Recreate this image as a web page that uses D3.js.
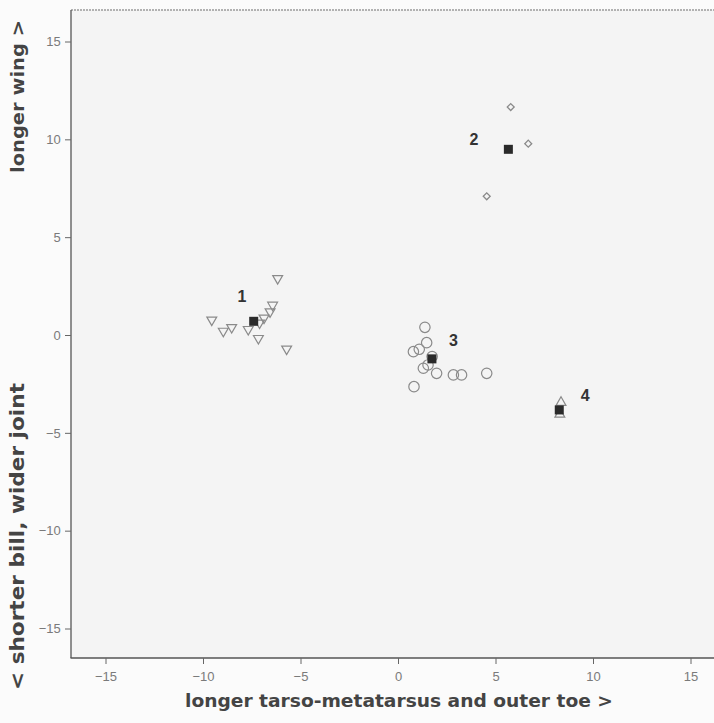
<!DOCTYPE html>
<html><head><meta charset="utf-8">
<script src="https://cdn.jsdelivr.net/npm/d3@7"></script>
<style>body{margin:0;background:#fbfbfb}svg{display:block}</style>
</head><body>
<script>
// Data
const xTicks = [-15,-10,-5,0,5,10,15];
const yTicks = [-15,-10,-5,0,5,10,15];
const group1 = [[-9.55,0.77],[-8.96,0.2],[-8.53,0.39],[-7.68,0.29],[-7.16,-0.17],[-7.1,0.62],[-6.87,0.87],[-6.56,1.19],[-6.43,1.53],[-6.17,2.89],[-5.71,-0.71]];
const group2 = [[5.78,11.65],[6.68,9.78],[4.55,7.09]];
const group3 = [[1.38,0.39],[1.47,-0.39],[0.79,-0.85],[1.09,-0.73],[1.3,-1.7],[1.54,-1.53],[1.98,-1.96],[2.84,-2.04],[3.26,-2.04],[4.55,-1.96],[0.82,-2.64],[1.75,-1.1]];
const group4 = [[8.36,-3.45],[8.3,-4.05]];
const centroids = [[-7.4,0.7],[5.66,9.49],[1.74,-1.22],[8.27,-3.83]];
const clusterLabels = ["1","2","3","4"];
const labelPos = [[-8.0,1.7],[3.9,9.7],[2.85,-0.55],[9.6,-3.35]];
const xTitle = "longer tarso-metatarsus and outer toe >";
const yTitleTop = "longer wing >";
const yTitleBottom = "< shorter bill, wider joint";

const W=714,H=723;
const svg=d3.select("body").append("svg").attr("width",W).attr("height",H);
const x=d3.scaleLinear().domain([-15,15]).range([105.5,690.5]);
const y=d3.scaleLinear().domain([-15,15]).range([628.5,41.5]);
const L=71,T=10,R=716,B=658;

svg.append("rect").attr("x",L).attr("y",T).attr("width",R-L).attr("height",B-T).attr("fill","#f4f4f4");
svg.append("line").attr("x1",L).attr("x2",R).attr("y1",T).attr("y2",T).attr("stroke","#9a9a9a").attr("stroke-width",1.5).attr("stroke-dasharray","2,1");

const xa=svg.append("g").attr("transform",`translate(0,${B})`)
  .call(d3.axisBottom(x).tickValues(xTicks).tickSize(6).tickSizeOuter(0).tickFormat(d3.format("d")));
const ya=svg.append("g").attr("transform",`translate(${L},0)`)
  .call(d3.axisLeft(y).tickValues(yTicks).tickSize(6).tickSizeOuter(0).tickFormat(d3.format("d")));
xa.select(".domain").attr("d",`M${L-0.5},0H${R}`);
ya.select(".domain").attr("d",`M0,${T}V${B}`);
[xa,ya].forEach(a=>{
  a.select(".domain").attr("stroke","#555").attr("stroke-width",1.3);
  a.selectAll(".tick line").attr("stroke","#666");
  a.selectAll(".tick text").attr("fill","#7a7a7a").attr("font-family","Liberation Sans, Arial, sans-serif").attr("font-size",13);
});
xa.selectAll(".tick text").attr("dy","1.05em");
ya.selectAll(".tick text").attr("dx","-0.1em");

const g=svg.append("g");
const sc="#8a8a8a";
// group 1: down triangles
g.selectAll(".t1").data(group1).join("path")
  .attr("d",d3.symbol(d3.symbolTriangle,42)())
  .attr("transform",d=>`translate(${x(d[0])},${y(d[1])}) rotate(180)`)
  .attr("fill","none").attr("stroke",sc).attr("stroke-width",1.2);
// group 2: diamonds
g.selectAll(".t2").data(group2).join("path")
  .attr("d",d3.symbol(d3.symbolSquare,24)())
  .attr("transform",d=>`translate(${x(d[0])},${y(d[1])}) rotate(45)`)
  .attr("fill","none").attr("stroke",sc).attr("stroke-width",1.3);
// group 3: circles
g.selectAll(".t3").data(group3).join("circle")
  .attr("cx",d=>x(d[0])).attr("cy",d=>y(d[1])).attr("r",5.2)
  .attr("fill","none").attr("stroke",sc).attr("stroke-width",1.2);
// group 4: up triangles
g.selectAll(".t4").data(group4).join("path")
  .attr("d",d3.symbol(d3.symbolTriangle,42)())
  .attr("transform",d=>`translate(${x(d[0])},${y(d[1])})`)
  .attr("fill","none").attr("stroke",sc).attr("stroke-width",1.2);
// centroids
g.selectAll(".c").data(centroids).join("rect")
  .attr("x",d=>x(d[0])-4.5).attr("y",d=>y(d[1])-4.5).attr("width",9).attr("height",9)
  .attr("fill","#2a2a2a");
g.selectAll(".lab").data(labelPos).join("text")
  .attr("x",d=>x(d[0])).attr("y",d=>y(d[1])).attr("text-anchor","middle")
  .attr("font-family","Liberation Sans, Arial, sans-serif").attr("font-weight","bold").attr("font-size",16)
  .attr("fill","#333").text((d,i)=>clusterLabels[i]);

const tf="DejaVu Sans, Verdana, sans-serif";
svg.append("text").attr("x",185).attr("y",707).attr("text-anchor","start")
  .attr("textLength",428).attr("lengthAdjust","spacingAndGlyphs")
  .attr("font-family",tf).attr("font-weight","bold").attr("font-size",18).attr("fill","#444").text(xTitle);
svg.append("text").attr("transform","translate(24,173) rotate(-90)").attr("text-anchor","start")
  .attr("textLength",153).attr("lengthAdjust","spacingAndGlyphs")
  .attr("font-family",tf).attr("font-weight","bold").attr("font-size",18).attr("fill","#444").text(yTitleTop);
svg.append("text").attr("transform","translate(24,690) rotate(-90)").attr("text-anchor","start")
  .attr("textLength",307).attr("lengthAdjust","spacingAndGlyphs")
  .attr("font-family",tf).attr("font-weight","bold").attr("font-size",19).attr("fill","#444").text(yTitleBottom);
</script>
</body></html>
